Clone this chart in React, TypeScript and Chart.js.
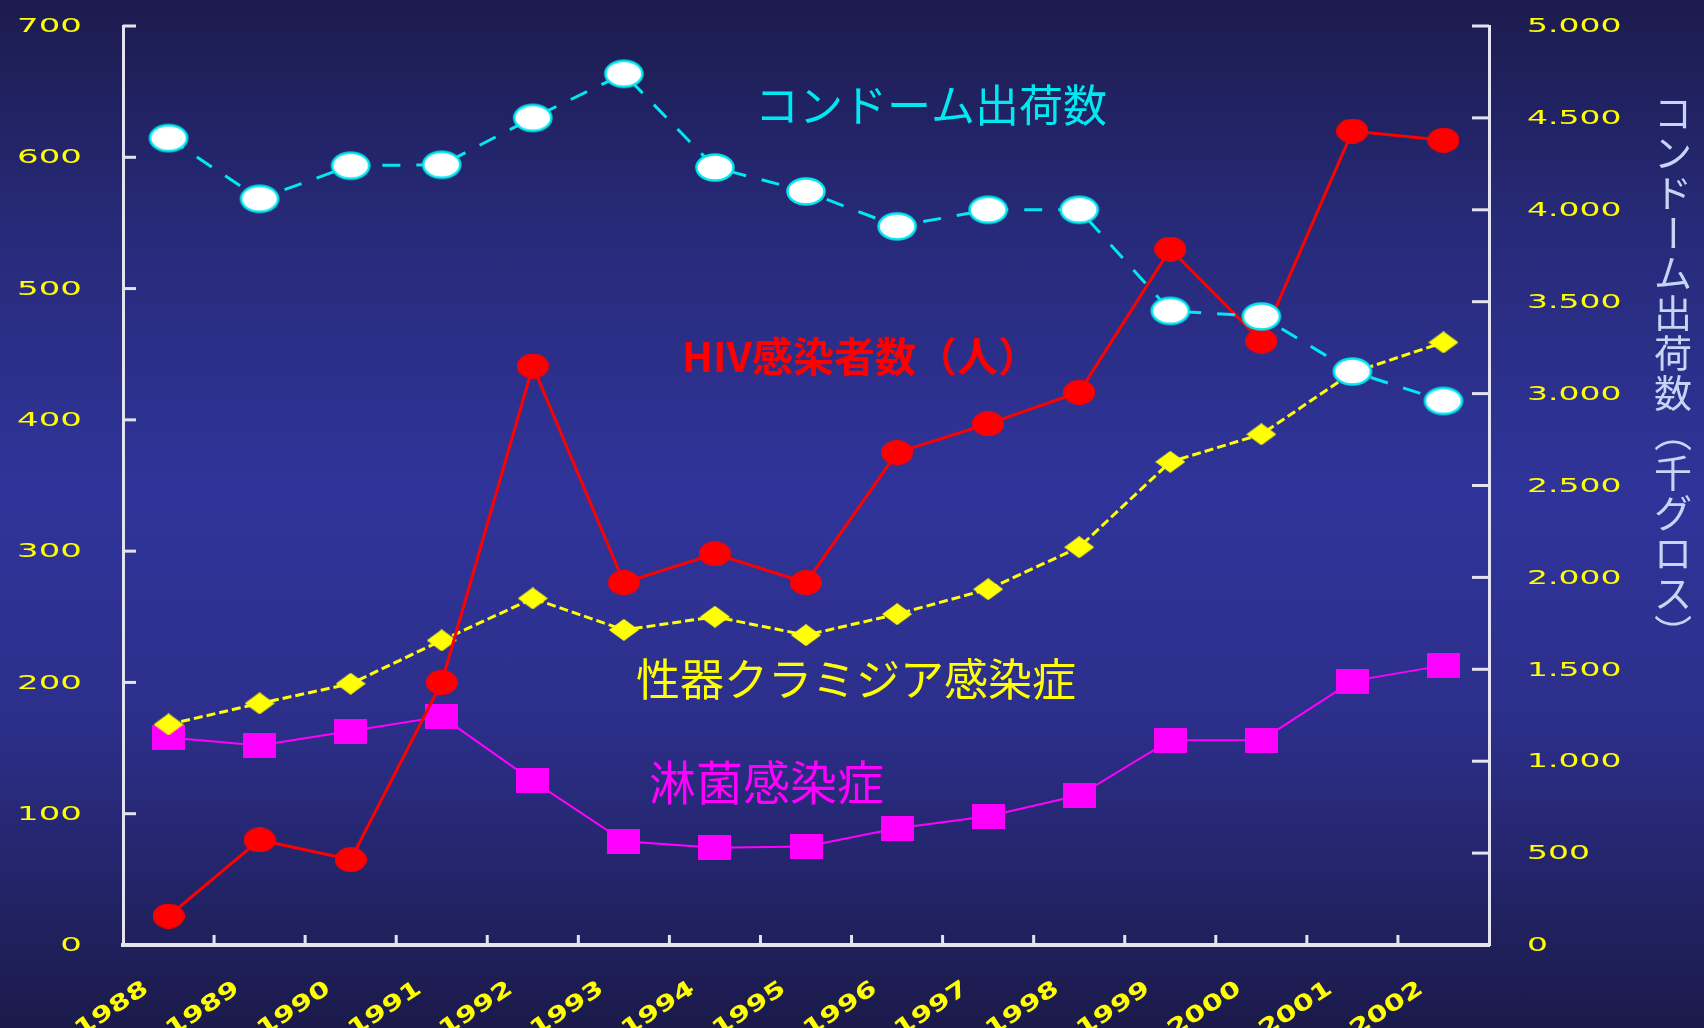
import React, { useEffect, useRef } from 'react';
import { Chart, registerables } from 'chart.js';

Chart.register(...registerables);

// ---- data ----
const years = ['1988', '1989', '1990', '1991', '1992', '1993', '1994', '1995', '1996', '1997', '1998', '1999', '2000', '2001', '2002'];
const condomShipments = [4390, 4060, 4240, 4245, 4500, 4740, 4230, 4100, 3910, 4000, 4000, 3450, 3420, 3120, 2960];
const hivCases = [22, 80, 65, 200, 441, 276, 298, 276, 375, 397, 421, 530, 460, 620, 613];
const chlamydiaCases = [168, 184, 199, 232, 264, 240, 250, 236, 252, 271, 303, 368, 389, 436, 459];
const gonorrheaCases = [158, 152, 163, 174, 125, 79, 74, 75, 89, 98, 114, 156, 156, 201, 213];

const leftMax = 700;
const leftStep = 100;
const rightMax = 5000;
const rightStep = 500;

const condomLabel = 'コンドーム出荷数';
const hivLabel = 'HIV感染者数（人）';
const chlamydiaLabel = '性器クラミジア感染症';
const gonorrheaLabel = '淋菌感染症';
const rightAxisTitle = 'コンドーム出荷数（千グロス）';

const W = 1704;
const H = 1028;

function makePoint(shape: string, w: number, h: number, fill: string, stroke?: string, lw = 0) {
  const c = document.createElement('canvas');
  c.width = w;
  c.height = h;
  const ctx = c.getContext('2d')!;
  ctx.fillStyle = fill;
  ctx.beginPath();
  if (shape === 'ellipse') {
    ctx.ellipse(w / 2, h / 2, w / 2 - lw, h / 2 - lw, 0, 0, Math.PI * 2);
  } else if (shape === 'diamond') {
    ctx.moveTo(w / 2, 0);
    ctx.lineTo(w, h / 2);
    ctx.lineTo(w / 2, h);
    ctx.lineTo(0, h / 2);
    ctx.closePath();
  } else {
    ctx.rect(0, 0, w, h);
  }
  ctx.fill();
  if (stroke && lw > 0) {
    ctx.strokeStyle = stroke;
    ctx.lineWidth = lw;
    ctx.stroke();
  }
  return c;
}

function fmtThousands(v: number) {
  if (v >= 1000) return Math.floor(v / 1000) + '.' + String(v % 1000).padStart(3, '0');
  return String(v);
}

export default function App() {
  const ref = useRef<HTMLCanvasElement | null>(null);

  useEffect(() => {
    document.body.style.margin = '0';
    const canvas = ref.current!;
    const condomPt = makePoint('ellipse', 42, 31, '#ffffff', '#00e8f0', 2.5);
    const hivPt = makePoint('ellipse', 32, 25, '#ff0000');
    const chlPt = makePoint('diamond', 30, 22, '#ffff00');
    const gonPt = makePoint('rect', 33, 25, '#ff00ff');

    const overlay = {
      id: 'overlay',
      afterDraw(chart: any) {
        const ctx = chart.ctx;
        const { left, right, bottom } = chart.chartArea;
        ctx.save();
        ctx.strokeStyle = '#e4e4f0';
        ctx.lineWidth = 3;
        const y = chart.scales.y;
        const y2 = chart.scales.y2;
        const x = chart.scales.x;
        ctx.fillStyle = '#ffff00';
        ctx.font = '20px "DejaVu Sans"';
        ctx.textBaseline = 'middle';
        // inward ticks + labels on left axis
        y.ticks.forEach((t: any, i: number) => {
          const py = y.getPixelForTick(i);
          ctx.beginPath();
          ctx.moveTo(left, py);
          ctx.lineTo(left + 13, py);
          ctx.stroke();
          ctx.save();
          ctx.translate(82, py + 1);
          ctx.scale(1.7, 1);
          ctx.textAlign = 'right';
          ctx.fillText(String(t.value), 0, 0);
          ctx.restore();
        });
        // inward ticks + labels on right axis
        y2.ticks.forEach((t: any, i: number) => {
          const py = y2.getPixelForTick(i);
          ctx.beginPath();
          ctx.moveTo(right, py);
          ctx.lineTo(right - 17, py);
          ctx.stroke();
          ctx.save();
          ctx.translate(1527, py + 1);
          ctx.scale(1.65, 1);
          ctx.textAlign = 'left';
          ctx.fillText(fmtThousands(t.value), 0, 0);
          ctx.restore();
        });
        // category boundary ticks on x axis
        const n = years.length;
        for (let i = 1; i < n; i++) {
          const px = left + ((right - left) * i) / n;
          ctx.beginPath();
          ctx.moveTo(px, bottom);
          ctx.lineTo(px, bottom - 10);
          ctx.stroke();
        }
        // x labels, rotated
        ctx.font = 'bold 22px "DejaVu Sans"';
        years.forEach((yr, i) => {
          const px = x.getPixelForValue(i);
          ctx.save();
          ctx.translate(px - 22, bottom + 42);
          ctx.rotate(-0.58);
          ctx.scale(1.35, 1);
          ctx.textAlign = 'right';
          ctx.textBaseline = 'middle';
          ctx.fillText(yr, 0, 0);
          ctx.restore();
        });
        // series labels
        ctx.textBaseline = 'middle';
        ctx.textAlign = 'left';
        ctx.font = '44px "Noto Sans CJK JP"';
        ctx.fillStyle = '#00e8f0';
        ctx.fillText(condomLabel, 755, 105);
        ctx.font = 'bold 41px "Noto Sans CJK JP"';
        ctx.fillStyle = '#ff0000';
        ctx.fillText(hivLabel, 682, 356);
        ctx.font = '44px "Noto Sans CJK JP"';
        ctx.fillStyle = '#ffff00';
        ctx.fillText(chlamydiaLabel, 636, 679);
        ctx.font = '47px "Noto Sans CJK JP"';
        ctx.fillStyle = '#ff00ff';
        ctx.fillText(gonorrheaLabel, 649, 782);
        // vertical right-axis title
        ctx.font = '38px "Noto Sans CJK JP"';
        ctx.fillStyle = '#c4d6f4';
        ctx.textAlign = 'center';
        const cx = 1673;
        let cy = 113;
        for (const ch of Array.from(rightAxisTitle)) {
          if (ch === 'ー' || ch === '（' || ch === '）') {
            ctx.save();
            ctx.translate(cx, cy);
            ctx.rotate(Math.PI / 2);
            ctx.fillText(ch, 0, 0);
            ctx.restore();
          } else {
            ctx.fillText(ch, cx, cy);
          }
          cy += 40;
        }
        ctx.restore();
      },
    };

    const chart = new Chart(canvas, {
      type: 'line',
      data: {
        labels: years,
        datasets: [
          {
            label: condomLabel,
            data: condomShipments,
            yAxisID: 'y2',
            borderColor: '#00e8f0',
            borderWidth: 3,
            borderDash: [18, 16],
            pointStyle: condomPt as any,
            pointRadius: 18,
            tension: 0,
          },
          {
            label: hivLabel,
            data: hivCases,
            yAxisID: 'y',
            borderColor: '#ff0000',
            borderWidth: 3,
            pointStyle: hivPt as any,
            pointRadius: 15,
            tension: 0,
          },
          {
            label: chlamydiaLabel,
            data: chlamydiaCases,
            yAxisID: 'y',
            borderColor: '#ffff00',
            borderWidth: 3,
            borderDash: [9, 4],
            pointStyle: chlPt as any,
            pointRadius: 13,
            tension: 0,
          },
          {
            label: gonorrheaLabel,
            data: gonorrheaCases,
            yAxisID: 'y',
            borderColor: '#ff00ff',
            borderWidth: 2,
            pointStyle: gonPt as any,
            pointRadius: 15,
            tension: 0,
          },
        ],
      },
      options: {
        responsive: false,
        animation: false,
        layout: { padding: { top: 26, left: 0, right: 0, bottom: 0 } },
        plugins: { legend: { display: false }, tooltip: { enabled: false } },
        scales: {
          x: {
            type: 'category',
            offset: true,
            grid: { display: false, drawTicks: false },
            border: { display: true, color: '#e4e4f0', width: 4 },
            ticks: { display: false, autoSkip: false },
            afterFit: (s: any) => {
              s.height = 83;
            },
          },
          y: {
            position: 'left',
            min: 0,
            max: leftMax,
            grid: { drawOnChartArea: false, drawTicks: false },
            border: { display: true, color: '#e4e4f0', width: 3 },
            ticks: { display: false, stepSize: leftStep },
            afterFit: (s: any) => {
              s.width = 123;
            },
          },
          y2: {
            position: 'right',
            min: 0,
            max: rightMax,
            grid: { drawOnChartArea: false, drawTicks: false },
            border: { display: true, color: '#e4e4f0', width: 3 },
            ticks: { display: false, stepSize: rightStep },
            afterFit: (s: any) => {
              s.width = 215;
            },
          },
        },
      },
      plugins: [overlay],
    } as any);
    return () => chart.destroy();
  }, []);

  return (
    <div
      style={{
        position: 'fixed',
        left: 0,
        top: 0,
        width: W,
        height: H,
        background:
          'linear-gradient(180deg, #1c1b4e 0%, #272a78 22%, #30349a 48%, #2c2f8a 70%, #1b1a4a 100%)',
      }}
    >
      <canvas ref={ref} width={W} height={H} style={{ width: W, height: H, display: 'block' }} />
    </div>
  );
}
